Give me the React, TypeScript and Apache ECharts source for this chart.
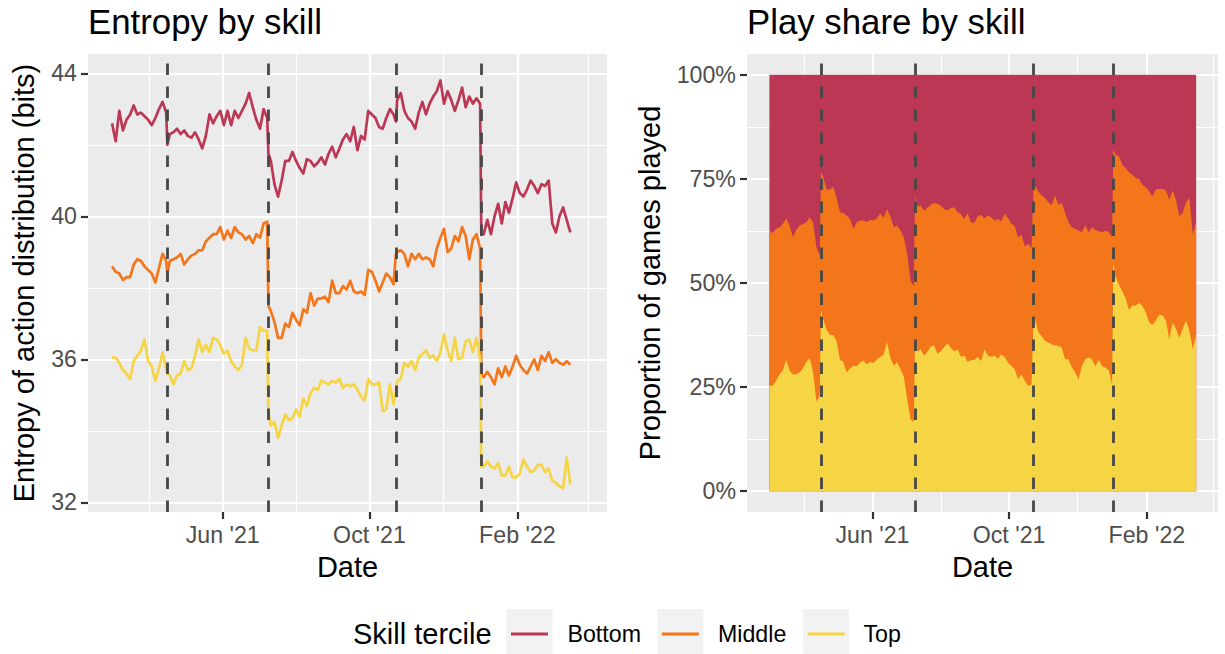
import React, { useEffect, useRef } from "react";
import * as echarts from "echarts";

// ---- data -----------------------------------------------------------------
const START_DATE = "2021-03-01";

// days since START_DATE for every observation
const dayOffsets = [
  0, 3, 6, 9, 12, 15, 18, 21, 24, 27, 30, 33, 36, 39, 42, 45, 46, 48, 51, 54,
  57, 60, 63, 66, 69, 72, 75, 78, 81, 84, 87, 90, 93, 96, 99, 102, 105, 108,
  111, 114, 117, 120, 123, 126, 129, 130, 132, 135, 138, 141, 144, 147, 150,
  153, 156, 159, 162, 165, 168, 171, 174, 177, 180, 183, 186, 189, 192, 195,
  198, 201, 204, 207, 210, 213, 216, 219, 222, 225, 228, 231, 234, 236, 237,
  240, 243, 246, 249, 252, 255, 258, 261, 264, 267, 270, 273, 276, 279, 282,
  285, 288, 291, 294, 297, 300, 303, 306, 307, 309, 312, 315, 318, 321, 324,
  327, 330, 333, 336, 339, 342, 345, 348, 351, 354, 357, 360, 363, 366, 369,
  372, 375, 378, 381,
];

// entropy of the action distribution (bits), per skill tercile
const entropyBottom = [
  42.6, 42.1, 42.95, 42.4, 42.7, 42.85, 43.1, 42.85, 42.9, 42.8, 42.7, 42.55,
  42.75, 43.0, 43.2, 42.9, 42.0, 42.3, 42.35, 42.45, 42.3, 42.4, 42.25, 42.2,
  42.35, 42.15, 41.9, 42.25, 42.85, 42.6, 42.8, 42.95, 42.55, 42.95, 42.55,
  42.95, 42.75, 42.95, 43.15, 43.45, 43.05, 42.7, 42.45, 43.0, 42.75, 41.75,
  41.55, 40.9, 40.55, 41.0, 41.55, 41.55, 41.8, 41.55, 41.35, 41.2, 41.6,
  41.55, 41.4, 41.5, 41.65, 41.45, 41.75, 41.95, 41.65, 41.9, 42.15, 42.3,
  42.1, 42.5, 41.85, 42.25, 42.15, 42.95, 42.85, 42.75, 42.5, 42.45, 42.75,
  43.0, 42.85, 42.65, 43.25, 43.45, 42.95, 42.75, 42.65, 42.45, 42.9, 43.2,
  42.85, 43.15, 43.35, 43.5, 43.8, 43.15, 43.5, 43.25, 42.95, 43.25, 43.6,
  43.05, 43.35, 43.15, 43.3, 43.15, 39.5, 39.5, 39.9, 39.5, 40.0, 40.35, 39.8,
  40.4, 40.1, 40.5, 40.95, 40.65, 40.55, 40.75, 41.0, 40.85, 40.65, 40.9,
  40.85, 41.0, 39.8, 39.55, 40.0, 40.25, 39.9, 39.55,
];
const entropyMiddle = [
  38.6, 38.45, 38.4, 38.22, 38.3, 38.3, 38.65, 38.8, 38.75, 38.6, 38.5, 38.4,
  38.15, 38.55, 38.95, 38.75, 38.4, 38.75, 38.8, 38.85, 38.95, 38.65, 38.8,
  38.9, 38.95, 39.05, 39.05, 39.3, 39.4, 39.5, 39.5, 39.7, 39.35, 39.6, 39.4,
  39.7, 39.55, 39.5, 39.35, 39.45, 39.25, 39.5, 39.4, 39.8, 39.85, 37.5, 37.35,
  37.05, 36.6, 36.6, 37.0, 36.9, 37.3, 37.1, 36.95, 37.4, 37.3, 37.85, 37.5,
  37.7, 37.7, 37.75, 37.6, 38.2, 37.85, 37.85, 38.05, 37.95, 38.2, 37.9, 37.85,
  37.9, 37.8, 38.5, 38.45, 38.2, 37.9, 38.15, 38.4, 38.3, 38.1, 38.95, 39.0,
  39.05, 38.95, 38.6, 38.95, 38.8, 38.95, 38.8, 38.85, 38.8, 38.6, 39.1, 39.4,
  39.65, 39.0, 39.1, 39.45, 39.3, 39.7, 39.45, 38.8, 39.35, 39.5, 39.1, 35.6,
  35.5, 35.65, 35.5, 35.3, 35.75, 35.5, 35.8, 35.55, 35.8, 36.1, 35.85, 35.7,
  35.6, 35.8, 36.0, 35.7, 36.1, 35.95, 36.2, 35.9, 36.0, 35.9, 35.85, 35.95,
  35.85,
];
const entropyTop = [
  36.05, 36.05, 35.9, 35.7, 35.6, 35.45, 35.95, 36.1, 36.25, 36.55, 35.95,
  35.8, 35.4, 35.75, 36.2, 35.75, 35.6, 35.55, 35.3, 35.55, 35.6, 35.95, 35.7,
  35.75, 36.1, 36.55, 36.2, 36.4, 36.2, 36.6, 36.55, 36.4, 36.15, 36.25, 35.95,
  35.8, 35.7, 35.85, 36.6, 36.3, 36.25, 36.25, 36.9, 36.8, 36.8, 34.5, 34.15,
  34.25, 33.8, 34.15, 34.45, 34.3, 34.35, 34.6, 34.4, 34.9, 34.7, 35.05, 35.2,
  35.15, 35.4, 35.35, 35.3, 35.4, 35.35, 35.45, 35.2, 35.3, 35.25, 35.3, 35.15,
  34.95, 34.85, 35.45, 35.3, 35.3, 35.35, 34.55, 34.6, 35.3, 34.75, 35.1, 35.4,
  35.45, 35.9, 35.8, 35.95, 35.7, 36.05, 36.15, 36.25, 36.05, 36.1, 35.95,
  36.2, 36.7, 36.25, 35.95, 36.6, 36.0, 36.05, 36.5, 36.55, 36.2, 36.6, 36.0,
  33.0, 33.0, 33.15, 33.0, 32.95, 33.1, 32.75, 32.75, 33.0, 32.7, 32.7, 32.8,
  33.2, 33.0, 32.85, 32.9, 33.05, 33.05, 32.85, 32.95, 32.6, 32.55, 32.45,
  32.4, 33.25, 32.5,
];

// share of games played (%): top tercile, and top + middle terciles together;
// the bottom tercile holds the remainder of each day's games
const shareTop = [
  25.3, 25.3, 26.5, 28.0, 29.0, 31.5, 29.0, 28.0, 28.1, 28.5, 29.5, 31.0, 32.0,
  28.5, 21.5, 23.0, 43.5, 41.3, 38.8, 37.5, 37.5, 36.0, 31.5, 31.0, 28.5, 29.5,
  30.1, 30.0, 30.9, 31.3, 30.5, 31.0, 30.8, 31.6, 32.2, 32.8, 35.8, 32.0, 30.1,
  30.9, 29.3, 27.5, 22.0, 17.3, 16.6, 36.5, 33.5, 34.1, 32.5, 33.5, 34.7, 35.0,
  33.0, 33.6, 34.6, 35.5, 34.4, 33.6, 34.0, 32.3, 32.5, 31.0, 31.5, 31.5, 32.2,
  31.2, 34.0, 32.5, 32.3, 32.5, 31.8, 32.8, 32.2, 30.9, 30.1, 29.3, 26.9, 28.0,
  26.5, 25.3, 25.6, 42.0, 41.5, 38.3, 37.3, 36.1, 35.7, 35.2, 35.0, 34.9, 34.5,
  31.7, 31.7, 29.7, 28.5, 26.8, 30.1, 31.7, 32.1, 31.7, 30.0, 31.5, 30.0, 29.7,
  29.0, 25.5, 55.0, 51.5, 49.6, 48.0, 46.3, 43.5, 44.6, 44.6, 45.2, 44.5, 43.0,
  40.6, 40.0, 41.0, 42.4, 42.2, 41.0, 36.5, 40.5, 39.0, 36.8, 39.0, 41.0, 38.5,
  34.0, 37.5,
];
const shareTopOrMiddle = [
  62.6, 62.0, 63.0, 63.3, 64.2, 65.5, 63.8, 61.0, 62.8, 63.8, 64.2, 64.6, 65.8,
  64.5, 58.5, 56.5, 76.6, 75.5, 72.5, 72.4, 73.2, 70.5, 67.0, 66.8, 66.2, 65.4,
  63.0, 64.6, 65.0, 65.0, 64.6, 65.2, 65.0, 65.5, 66.7, 65.6, 67.8, 66.0, 63.4,
  63.8, 62.6, 61.0, 57.0, 50.5, 49.2, 71.0, 68.4, 68.6, 67.4, 68.0, 68.8, 69.2,
  69.0, 68.6, 67.7, 67.5, 68.0, 68.2, 67.0, 66.5, 65.4, 66.8, 64.6, 64.5, 66.0,
  66.4, 65.5, 66.2, 65.8, 65.0, 65.4, 64.8, 66.6, 65.6, 64.3, 63.6, 61.0, 61.6,
  58.8, 59.4, 58.4, 74.6, 73.5, 72.0, 71.0, 70.4, 69.4, 68.7, 71.0, 68.8, 69.3,
  66.8, 64.6, 63.4, 63.0, 62.6, 62.2, 63.8, 62.2, 63.4, 62.7, 62.5, 62.2, 62.6,
  62.2, 61.0, 82.2, 80.8, 80.4, 78.4, 77.6, 76.6, 76.0, 75.2, 75.0, 73.6, 73.0,
  72.0, 70.8, 72.6, 72.6, 72.6, 72.2, 70.0, 72.2, 70.0, 66.0, 66.8, 69.4, 70.4,
  61.5, 65.0,
];
const TOTAL_SHARE = 100;

// axes
const majorDateTicks = ["2021-06-01", "2021-10-01", "2022-02-01"];
const majorDateLabels = ["Jun '21", "Oct '21", "Feb '22"];
const minorDateTicks = ["2021-04-01", "2021-08-01", "2021-12-01", "2022-04-01"];
const phaseBreaks = ["2021-04-16", "2021-07-09", "2021-10-23", "2022-01-02"];
const entropyTicks = [32, 36, 40, 44];
const entropyMinorTicks = [34, 38, 42];
const shareTicks = [0, 25, 50, 75, 100];
const shareMinorTicks = [12.5, 37.5, 62.5, 87.5];

const terciles = ["Bottom", "Middle", "Top"];
const tercileColors = ["#BC3754", "#F3761B", "#F6D545"];

// ---- helpers --------------------------------------------------------------
// dates are plotted on a numeric axis as millisecond timestamps
const DAY = 86400000;
const t0 = Date.parse(START_DATE);
const ts = (d: number) => t0 + d * DAY;
const dateTs = (s: string) => Date.parse(s);

const FONT = '"Liberation Sans", Arial, Helvetica, sans-serif';
const PANEL_BG = "#EBEBEB";
const TICK_COLOR = "#333333";
const LABEL_COLOR = "#4D4D4D";

const majorTs = majorDateTicks.map(dateTs);
const minorTs = minorDateTicks.map(dateTs);
const dateLabel = (v: number) => {
  let best = -1;
  let bestDist = Infinity;
  majorTs.forEach((t, i) => {
    const dist = Math.abs(t - v);
    if (dist < bestDist) {
      bestDist = dist;
      best = i;
    }
  });
  return best >= 0 && bestDist < DAY ? majorDateLabels[best] : "";
};

const pairs = (vals: number[]) => dayOffsets.map((d, i) => [ts(d), vals[i]]);

function majorXAxis(gridIndex: number, min: number, max: number) {
  return {
    type: "value",
    gridIndex,
    min: ts(min),
    max: ts(max),
    scale: true,
    name: "Date",
    nameLocation: "middle",
    nameGap: 40,
    nameTextStyle: { fontSize: 29, color: "#000", fontFamily: FONT },
    axisLine: { show: false, onZero: false },
    axisTick: {
      show: true,
      length: 7,
      customValues: majorTs,
      lineStyle: { color: TICK_COLOR, width: 2.2 },
    },
    axisLabel: {
      customValues: majorTs,
      formatter: (v: number) => dateLabel(v),
      color: LABEL_COLOR,
      fontSize: 23.2,
      fontFamily: FONT,
      margin: 11,
    },
    splitLine: { show: true, lineStyle: { color: "#FFFFFF", width: 2.2 } },
  };
}

function minorXAxis(gridIndex: number, min: number, max: number) {
  return {
    type: "value",
    gridIndex,
    min: ts(min),
    max: ts(max),
    scale: true,
    axisLine: { show: false, onZero: false },
    axisTick: { show: false, customValues: minorTs },
    axisLabel: { show: false, customValues: minorTs },
    splitLine: { show: true, lineStyle: { color: "#FFFFFF", width: 1.1 } },
  };
}

function majorYAxis(
  gridIndex: number,
  min: number,
  max: number,
  ticks: number[],
  name: string,
  nameGap: number,
  fmt: (v: number) => string
) {
  return {
    type: "value",
    gridIndex,
    min,
    max,
    name,
    nameLocation: "middle",
    nameGap,
    nameTextStyle: { fontSize: 29, color: "#000", fontFamily: FONT },
    axisLine: { show: false, onZero: false },
    axisTick: {
      show: true,
      length: 7,
      customValues: ticks,
      lineStyle: { color: TICK_COLOR, width: 2.2 },
    },
    axisLabel: {
      customValues: ticks,
      formatter: fmt,
      color: LABEL_COLOR,
      fontSize: 23.2,
      fontFamily: FONT,
      margin: 11,
    },
    splitLine: { show: true, lineStyle: { color: "#FFFFFF", width: 2.2 } },
  };
}

function minorYAxis(gridIndex: number, min: number, max: number, ticks: number[]) {
  return {
    type: "value",
    gridIndex,
    min,
    max,
    axisLine: { show: false, onZero: false },
    axisTick: { show: false, customValues: ticks },
    axisLabel: { show: false, customValues: ticks },
    splitLine: { show: true, lineStyle: { color: "#FFFFFF", width: 1.1 } },
  };
}

const phaseLines = {
  silent: true,
  symbol: ["none", "none"],
  label: { show: false },
  lineStyle: { color: "#474747", width: 2.8, type: [11.5, 11.5], opacity: 1 },
  emphasis: { disabled: true },
  data: phaseBreaks.map((d) => ({ xAxis: dateTs(d) })),
};

// legend drawn as ggplot-style keys
function legendGraphics() {
  const keyX = [506.5, 657.4, 803.2];
  const labelX = [567.5, 718, 863.5];
  const cy = 634;
  const els: any[] = [
    {
      type: "text",
      x: 353,
      y: cy,
      style: {
        text: "Skill tercile",
        fill: "#000",
        fontSize: 29,
        fontFamily: FONT,
        align: "left",
        verticalAlign: "middle",
      },
    },
  ];
  terciles.forEach((name, i) => {
    els.push({
      type: "rect",
      shape: { x: keyX[i], y: 609, width: 46, height: 52 },
      style: { fill: "#F2F2F2" },
    });
    els.push({
      type: "line",
      shape: { x1: keyX[i] + 4.5, y1: cy, x2: keyX[i] + 41.5, y2: cy },
      style: { stroke: tercileColors[i], lineWidth: 2.8 },
    });
    els.push({
      type: "text",
      x: labelX[i],
      y: cy,
      style: {
        text: name,
        fill: "#000",
        fontSize: 23.2,
        fontFamily: FONT,
        align: "left",
        verticalAlign: "middle",
      },
    });
  });
  return els;
}

function buildOption() {
  const entropySeries = [entropyBottom, entropyMiddle, entropyTop].map((vals, i) => ({
    name: terciles[i],
    type: "line",
    xAxisIndex: 0,
    yAxisIndex: 0,
    data: pairs(vals),
    symbol: "none",
    showSymbol: false,
    lineStyle: { color: tercileColors[i], width: 2.7, join: "round" },
    itemStyle: { color: tercileColors[i] },
    z: 2,
    ...(i === 2 ? { markLine: phaseLines } : {}),
  }));

  // per-tercile shares, then stacked by hand into the upper edge of each band
  const shareMiddle = shareTopOrMiddle.map((c, i) => c - shareTop[i]);
  const shareBottom = shareTopOrMiddle.map((c) => TOTAL_SHARE - c);
  const edgeTop = shareTop;
  const edgeMiddle = edgeTop.map((v, i) => v + shareMiddle[i]);
  const edgeBottom = edgeMiddle.map((v, i) => v + shareBottom[i]);

  // painted back to front, each band filled down to 0%
  const bands = [
    { idx: 0, edge: edgeBottom },
    { idx: 1, edge: edgeMiddle },
    { idx: 2, edge: edgeTop },
  ];
  const shareSeries = bands.map(({ idx, edge }, k) => ({
    name: terciles[idx] + " share",
    type: "line",
    xAxisIndex: 2,
    yAxisIndex: 2,
    data: pairs(edge.map((v) => +v.toFixed(2))),
    symbol: "none",
    showSymbol: false,
    lineStyle: { width: 0 },
    areaStyle: { color: tercileColors[idx], opacity: 1, origin: 0 },
    itemStyle: { color: tercileColors[idx] },
    z: 2,
    ...(k === 2 ? { markLine: phaseLines } : {}),
  }));

  return {
    animation: false,
    backgroundColor: "#FFFFFF",
    textStyle: { fontFamily: FONT },
    title: [
      {
        text: "Entropy by skill",
        left: 88,
        top: 3.5,
        padding: 0,
        textStyle: { fontSize: 34.8, fontWeight: "normal", color: "#000", fontFamily: FONT },
      },
      {
        text: "Play share by skill",
        left: 747,
        top: 3.5,
        padding: 0,
        textStyle: { fontSize: 34.8, fontWeight: "normal", color: "#000", fontFamily: FONT },
      },
    ],
    grid: [
      {
        left: 88,
        top: 54,
        width: 519,
        height: 458,
        show: true,
        backgroundColor: PANEL_BG,
        borderWidth: 0,
        containLabel: false,
      },
      {
        left: 747,
        top: 54,
        width: 471,
        height: 458,
        show: true,
        backgroundColor: PANEL_BG,
        borderWidth: 0,
        containLabel: false,
      },
    ],
    xAxis: [
      majorXAxis(0, -20, 411.5),
      minorXAxis(0, -20, 411.5),
      majorXAxis(1, -20, 400.5),
      minorXAxis(1, -20, 400.5),
    ],
    yAxis: [
      majorYAxis(0, 31.73, 44.54, entropyTicks, "Entropy of action distribution (bits)", 50, (v) =>
        String(v)
      ),
      minorYAxis(0, 31.73, 44.54, entropyMinorTicks),
      majorYAxis(1, -5, 105, shareTicks, "Proportion of games played", 83, (v) => v + "%"),
      minorYAxis(1, -5, 105, shareMinorTicks),
    ],
    series: [...entropySeries, ...shareSeries],
    graphic: { elements: legendGraphics() },
  };
}

export default function App() {
  const ref = useRef<HTMLDivElement>(null);
  useEffect(() => {
    if (!ref.current) return;
    const chart = echarts.init(ref.current, undefined, { renderer: "svg" });
    chart.setOption(buildOption() as any);
    return () => chart.dispose();
  }, []);
  return (
    <div
      ref={ref}
      style={{ position: "absolute", left: 0, top: 0, width: 1225, height: 654, background: "#fff" }}
    />
  );
}
